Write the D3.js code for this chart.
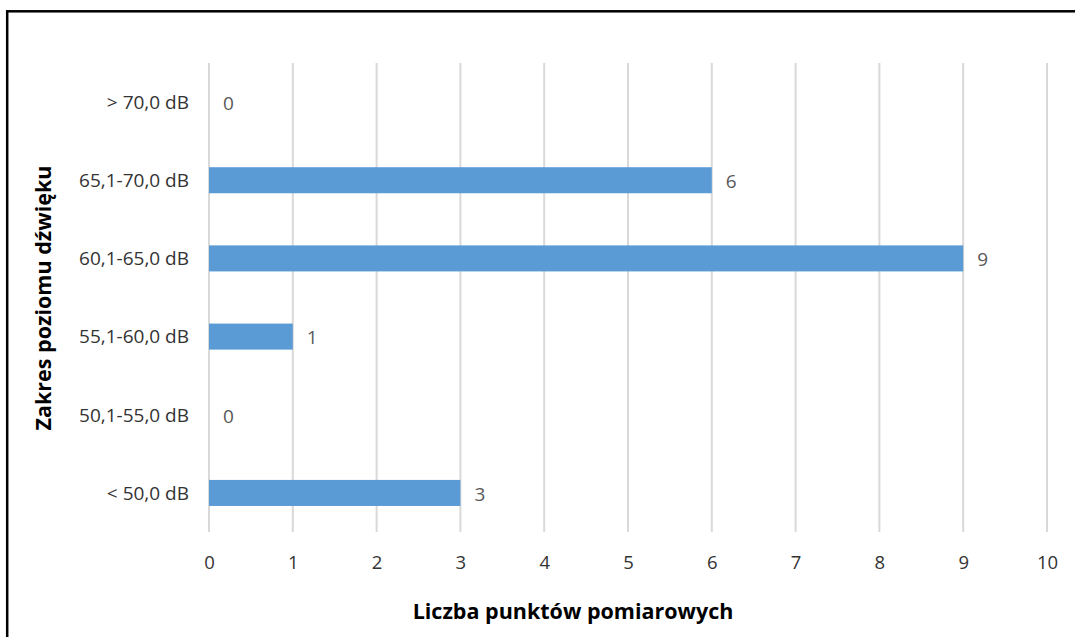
<!DOCTYPE html>
<html>
<head>
<meta charset="utf-8">
<script src="https://cdn.jsdelivr.net/npm/d3@7"></script>
<style>
  html, body { margin: 0; padding: 0; background: #fff; }
  svg { display: block; }
  text { font-family: "Open Sans", "Noto Sans", sans-serif; }
</style>
</head>
<body>
<svg id="chart" width="1075" height="637"></svg>
<script>
// Sound level ranges (top to bottom) and number of measurement points
const categories = ["> 70,0 dB", "65,1-70,0 dB", "60,1-65,0 dB", "55,1-60,0 dB", "50,1-55,0 dB", "< 50,0 dB"];
const counts = [0, 6, 9, 1, 0, 3];
const xTicks = [0, 1, 2, 3, 4, 5, 6, 7, 8, 9, 10];
const xTitle = "Liczba punktów pomiarowych";
const yTitle = "Zakres poziomu dźwięku";

const FONT = '"Open Sans", "Noto Sans", sans-serif';
const svg = d3.select("#chart");
const W = 1075, H = 637;
const plot = { left: 209, right: 1047, top: 63, bottom: 532 };

// outer frame (open at right and bottom edges of the canvas)
svg.append("rect")
  .attr("x", 7.2).attr("y", 11.3)
  .attr("width", W + 20).attr("height", H + 20)
  .attr("fill", "#fff").attr("stroke", "#000").attr("stroke-width", 2.5);

const x = d3.scaleLinear().domain([0, 10]).range([plot.left, plot.right]);
const y = d3.scaleBand().domain(categories).range([plot.top, plot.bottom]).paddingInner(0.667).paddingOuter(0.333);

// vertical gridlines
svg.append("g").selectAll("line").data(xTicks).join("line")
  .attr("x1", d => x(d)).attr("x2", d => x(d))
  .attr("y1", plot.top).attr("y2", plot.bottom)
  .attr("stroke", "#d9d9d9").attr("stroke-width", 2);

// bars
svg.append("g").selectAll("rect").data(categories).join("rect")
  .attr("x", x(0))
  .attr("y", d => y(d))
  .attr("width", (d, i) => x(counts[i]) - x(0))
  .attr("height", y.bandwidth())
  .attr("fill", "#5b9bd5");

// value labels
svg.append("g").selectAll("text").data(categories).join("text")
  .attr("x", (d, i) => x(counts[i]) + 14)
  .attr("y", d => y(d) + y.bandwidth() / 2 + 1)
  .attr("dy", "0.36em")
  .attr("font-size", 19)
  .attr("fill", "#595959")
  .text((d, i) => counts[i]);

// x axis tick labels
const xAxis = d3.axisBottom(x).tickValues(xTicks).tickSize(0).tickPadding(0).tickFormat(d3.format("d"));
const gx = svg.append("g").attr("transform", `translate(0,569)`).call(xAxis);
gx.select(".domain").remove();
gx.selectAll("text").attr("font-size", 18.5).attr("fill", "#333")
  .attr("font-family", FONT).attr("dy", 0);

// y axis category labels
const yAxis = d3.axisLeft(y).tickSize(0).tickPadding(20);
const gy = svg.append("g").attr("transform", `translate(${plot.left},0)`).call(yAxis);
gy.select(".domain").remove();
gy.selectAll("text").attr("font-size", 19).attr("fill", "#333")
  .attr("font-family", FONT).attr("dy", "0.36em");

// axis titles
svg.append("text")
  .attr("x", 573).attr("y", 619)
  .attr("text-anchor", "middle").attr("font-size", 21.5).attr("font-weight", "bold")
  .attr("fill", "#000")
  .text(xTitle);

svg.append("text")
  .attr("transform", `translate(51,298) rotate(-90)`)
  .attr("text-anchor", "middle").attr("font-size", 21.5).attr("font-weight", "bold")
  .attr("fill", "#000")
  .text(yTitle);
</script>
</body>
</html>
